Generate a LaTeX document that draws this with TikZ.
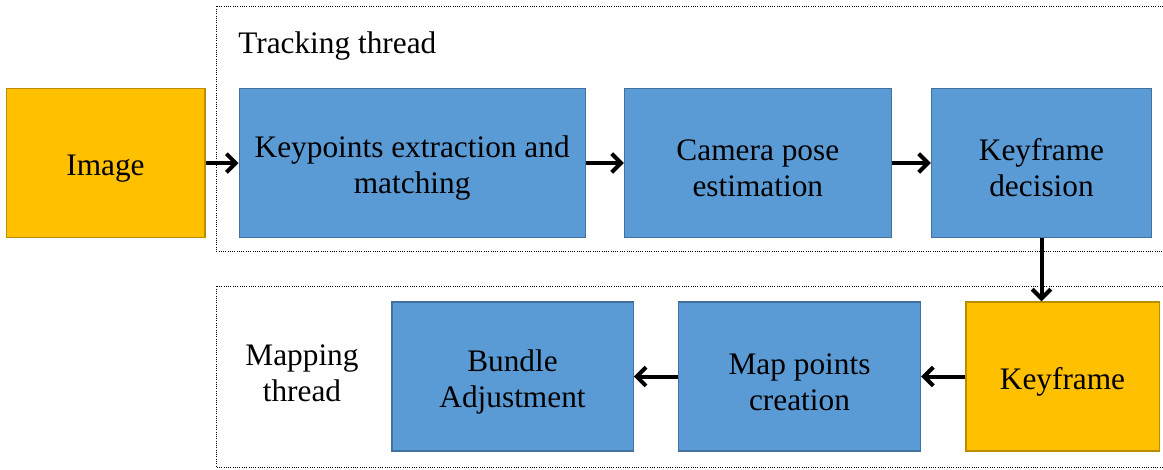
\documentclass[tikz,border=0pt]{standalone}
\usepackage{fontspec}
\setmainfont{Liberation Serif}
\usetikzlibrary{positioning, arrows.meta}
\definecolor{boxyellow}{HTML}{FFC000}
\definecolor{edgeyellow}{HTML}{BC8C00}
\definecolor{boxblue}{HTML}{5B9BD5}
\definecolor{edgeblue}{HTML}{41719C}
\newcommand{\boxstrut}{\rule{0pt}{24pt}}
\tikzstyle{yellowbox} = [rectangle, minimum height=111.75pt, text centered, align=center, draw=edgeyellow, line width=1pt, fill=boxyellow]
\tikzstyle{bluebox} = [rectangle, minimum height=111.75pt, text centered, align=center, draw=edgeblue, line width=1pt, fill=boxblue]
\tikzstyle{threadlabel} = [rectangle, align=center, inner sep=0pt]
\tikzstyle{threadframe} = [densely dotted, line width=0.7pt]
\tikzstyle{flow} = [-{Straight Barb[length=7pt,width=14pt]}, line width=3pt]

\begin{document}
\begin{tikzpicture}[x=0.75pt, y=-0.75pt, font=\fontsize{23.5}{27}\selectfont]
\useasboundingbox (0,0) rectangle (1163,469);

% dotted thread frames
\draw[threadframe] (1163,6) -- (216,6) -- (216,251) -- (1163,251);
\draw[threadframe] (1163,286) -- (216,286) -- (216,467) -- (1163,467);

\node (track) [threadlabel, anchor=west] at (238,46) {Tracking thread};
\node (map) [threadlabel] at (302,373) {Mapping\\thread};

% tracking row
\node (img) [yellowbox, minimum width=149pt] at (105.5,163) {\boxstrut Image};
\node (kpt) [bluebox, minimum width=259.5pt, right=24.75pt of img] {\boxstrut Keypoints extraction and\\matching};
\node (cam) [bluebox, minimum width=200pt, right=28.5pt of kpt] {\boxstrut Camera pose\\estimation};
\node (kfd) [bluebox, minimum width=165pt, right=29.25pt of cam] {\boxstrut Keyframe\\decision};

% mapping row
\node (kf) [yellowbox, minimum width=145pt] at (1062.5,376.5) {\boxstrut Keyframe};
\node (mpc) [bluebox, minimum width=181.5pt, left=33pt of kf] {\boxstrut Map points\\creation};
\node (ba) [bluebox, minimum width=181pt, left=33pt of mpc] {\boxstrut Bundle\\Adjustment};

\draw[flow] (img) -- (kpt);
\draw[flow] (kpt) -- (cam);
\draw[flow] (cam) -- (kfd);
\draw[flow] (kfd.south) -- (kfd.south |- kf.north);
\draw[flow] (kf) -- (mpc);
\draw[flow] (mpc) -- (ba);

\end{tikzpicture}
\end{document}
